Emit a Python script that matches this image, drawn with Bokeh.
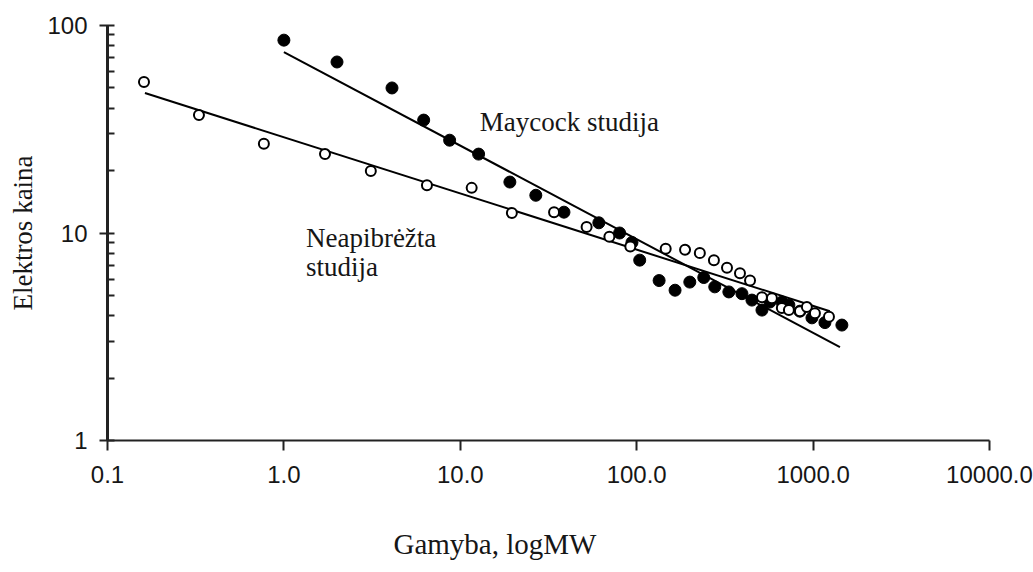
from bokeh.plotting import figure
from bokeh.models import Range1d, FixedTicker, Label, Title
from bokeh.embed import file_html
from bokeh.resources import INLINE

# ---- data ----
maycock_x = [1.0, 2.0, 4.1, 6.2, 8.7, 12.7, 19.1, 26.8, 38.7, 61, 80, 94, 104, 134, 165,
             200, 240, 277, 333, 395, 450, 513, 569, 665, 729, 842, 985, 1167, 1456]
maycock_y = [85, 66.7, 50, 35, 28, 24, 17.6, 15.2, 12.6, 11.2, 10.0, 9.0, 7.4, 5.9, 5.3,
             5.8, 6.1, 5.5, 5.2, 5.1, 4.75, 4.25, 4.65, 4.65, 4.5, 4.2, 3.9, 3.7, 3.6]

neap_x = [0.161, 0.33, 0.77, 1.71, 3.11, 6.47, 11.6, 19.6, 34, 52, 70, 92, 146, 188,
          228, 274, 325, 385, 439, 513, 584, 665, 729, 842, 922, 1024, 1230]
neap_y = [53.4, 37, 26.9, 24, 19.9, 17, 16.5, 12.5, 12.6, 10.7, 9.6, 8.6, 8.4, 8.3,
          8.0, 7.4, 6.8, 6.4, 5.9, 4.9, 4.85, 4.35, 4.25, 4.2, 4.4, 4.1, 3.95]

maycock_fit_x = [1.0, 1420]
maycock_fit_y = [74.5, 2.82]
neap_fit_x = [0.163, 1245]
neap_fit_y = [47.3, 4.2]

x_ticks = [0.1, 1, 10, 100, 1000, 10000]
x_tick_labels = ["0.1", "1.0", "10.0", "100.0", "1000.0", "10000.0"]
y_ticks = [1, 10, 100]
y_tick_labels = ["1", "10", "100"]
y_minor = [2, 3, 4, 5, 6, 7, 8, 9, 20, 30, 40, 50, 60, 70, 80, 90]

x_title = "Gamyba, logMW"
y_title = "Elektros kaina"
maycock_label = "Maycock studija"
neap_label_1 = "Neapibrėžta"
neap_label_2 = "studija"

SANS = "Liberation Sans"
SERIF = "Liberation Serif"
INK = "#161616"

p = figure(width=1033, height=572, x_axis_type="log", y_axis_type="log",
           x_range=Range1d(0.1, 10000), y_range=Range1d(1, 100),
           output_backend="svg", toolbar_location=None,
           min_border_left=107, min_border_right=44, min_border_top=25, min_border_bottom=132)

p.outline_line_color = None
p.xgrid.visible = False
p.ygrid.visible = False
p.background_fill_color = "white"
p.border_fill_color = "white"

# x axis
xa = p.xaxis[0]
xa.ticker = FixedTicker(ticks=x_ticks, minor_ticks=[])
xa.major_label_overrides = {t: l for t, l in zip(x_ticks, x_tick_labels)}
xa.axis_line_color = "#222222"
xa.axis_line_width = 2
xa.major_tick_line_color = "#222222"
xa.major_tick_line_width = 2
xa.major_tick_in = 0
xa.major_tick_out = 10
xa.minor_tick_line_color = None
xa.major_label_text_font = SANS
xa.major_label_text_font_size = "24px"
xa.major_label_text_color = INK
xa.major_label_standoff = 15

# y axis
ya = p.yaxis[0]
ya.ticker = FixedTicker(ticks=y_ticks, minor_ticks=y_minor)
ya.major_label_overrides = {t: l for t, l in zip(y_ticks, y_tick_labels)}
ya.axis_line_color = "#222222"
ya.axis_line_width = 3
ya.major_tick_line_color = "#222222"
ya.major_tick_line_width = 2
ya.major_tick_in = 7
ya.major_tick_out = 8
ya.minor_tick_line_color = "#222222"
ya.minor_tick_line_width = 2
ya.minor_tick_in = 7
ya.minor_tick_out = 0
ya.major_label_text_font = SANS
ya.major_label_text_font_size = "24px"
ya.major_label_text_color = INK
ya.major_label_standoff = 12
ya.axis_label = y_title
ya.axis_label_text_font = SERIF
ya.axis_label_text_font_size = "27px"
ya.axis_label_text_font_style = "normal"
ya.axis_label_text_color = INK
ya.axis_label_standoff = 6

# x axis title as a left-offset title below the axis (leading blank line = vertical gap)
p.add_layout(Title(text="\n" + x_title, align="left", vertical_align="bottom", offset=286, standoff=16,
                   text_font=SERIF, text_font_size="29px", text_font_style="normal",
                   text_color=INK), "below")

# fit lines
p.line(maycock_fit_x, maycock_fit_y, line_color="black", line_width=2)
p.line(neap_fit_x, neap_fit_y, line_color="black", line_width=2)

# points
p.scatter(maycock_x, maycock_y, size=12, marker="circle", fill_color="black", line_color="black")
p.scatter(neap_x, neap_y, size=10, marker="circle", fill_color="white", line_color="black", line_width=2)

# in-plot annotations (data coordinates)
for txt, xx, yy in [(maycock_label, 12.9, 34.3), (neap_label_1, 1.333, 9.46), (neap_label_2, 1.333, 6.86)]:
    p.add_layout(Label(x=xx, y=yy, text=txt, text_font=SERIF, text_font_size="27px",
                       text_color=INK, text_align="left", text_baseline="alphabetic"))

open("out.html", "w").write(file_html(p, INLINE))
